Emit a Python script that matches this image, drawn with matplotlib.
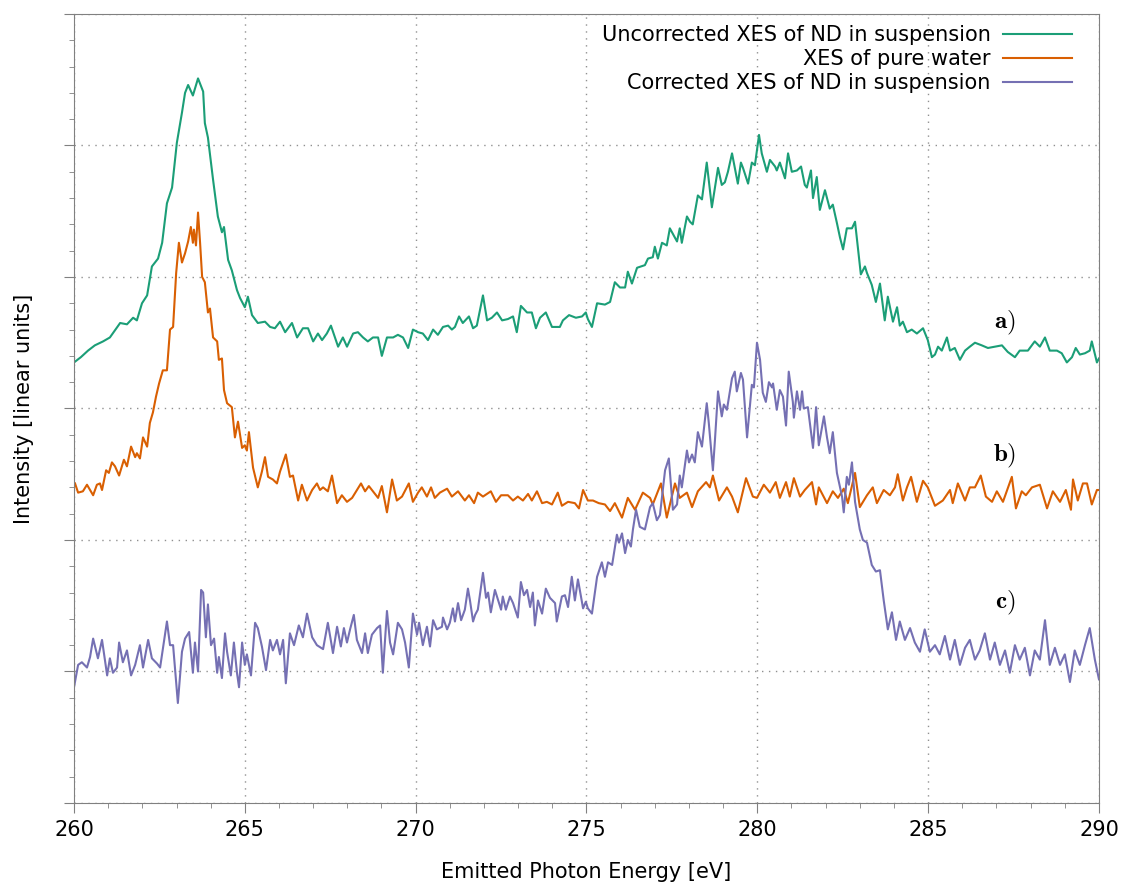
import numpy as np
import matplotlib
matplotlib.use("Agg")
import matplotlib.pyplot as plt
from matplotlib.ticker import MultipleLocator

plt.rcParams['mathtext.fontset'] = 'cm'
plt.rcParams['font.family'] = ['DejaVu Sans']

# --- a) uncorrected XES of ND in suspension (green) ---
energy_a = [260.00, 260.20, 260.41, 260.61, 260.85, 261.05, 261.35, 261.55, 261.73, 261.84,
            261.99, 262.14, 262.28, 262.46, 262.58, 262.72, 262.87, 263.01, 263.16, 263.25,
            263.34, 263.48, 263.63, 263.78, 263.83, 263.92, 264.07, 264.21, 264.33, 264.39,
            264.51, 264.62, 264.77, 264.86, 265.00, 265.09, 265.21, 265.38, 265.59, 265.74,
            265.88, 266.03, 266.18, 266.38, 266.53, 266.70, 266.85, 267.00, 267.14, 267.26,
            267.40, 267.52, 267.73, 267.87, 267.99, 268.17, 268.31, 268.46, 268.60, 268.75,
            268.90, 269.01, 269.16, 269.34, 269.48, 269.63, 269.78, 269.92, 270.07, 270.21,
            270.36, 270.51, 270.65, 270.80, 270.95, 271.06, 271.15, 271.27, 271.38, 271.56,
            271.68, 271.79, 271.97, 272.09, 272.23, 272.38, 272.53, 272.70, 272.85, 272.96,
            273.08, 273.26, 273.40, 273.52, 273.64, 273.81, 273.99, 274.22, 274.31, 274.49,
            274.69, 274.87, 274.98, 275.04, 275.16, 275.31, 275.54, 275.69, 275.83, 275.98,
            276.13, 276.21, 276.33, 276.48, 276.71, 276.80, 276.94, 277.00, 277.09, 277.21,
            277.35, 277.44, 277.65, 277.73, 277.79, 277.94, 278.03, 278.11, 278.26, 278.38,
            278.52, 278.67, 278.85, 278.96, 279.05, 279.14, 279.26, 279.43, 279.52, 279.58,
            279.73, 279.84, 279.93, 280.05, 280.13, 280.28, 280.37, 280.52, 280.57, 280.66,
            280.81, 280.90, 281.01, 281.16, 281.28, 281.39, 281.45, 281.57, 281.63, 281.74,
            281.83, 281.98, 282.12, 282.21, 282.33, 282.42, 282.51, 282.62, 282.77, 282.86,
            282.94, 283.03, 283.15, 283.21, 283.35, 283.47, 283.59, 283.73, 283.82, 283.97,
            284.09, 284.17, 284.26, 284.38, 284.52, 284.67, 284.85, 284.99, 285.11, 285.20,
            285.29, 285.40, 285.55, 285.64, 285.78, 285.93, 286.08, 286.22, 286.37, 286.57,
            286.75, 286.95, 287.16, 287.33, 287.54, 287.68, 287.92, 288.12, 288.27, 288.42,
            288.56, 288.77, 288.91, 289.06, 289.21, 289.32, 289.44, 289.59, 289.73, 289.79,
            289.94, 290.00]
intens_a = [3.35, 3.39, 3.44, 3.48, 3.51, 3.54, 3.65, 3.64, 3.69, 3.67,
            3.80, 3.86, 4.08, 4.14, 4.26, 4.56, 4.68, 5.02, 5.25, 5.40,
            5.46, 5.38, 5.51, 5.41, 5.17, 5.06, 4.74, 4.46, 4.34, 4.38,
            4.13, 4.05, 3.90, 3.84, 3.77, 3.85, 3.71, 3.65, 3.66, 3.62,
            3.61, 3.66, 3.58, 3.65, 3.54, 3.61, 3.61, 3.51, 3.57, 3.52,
            3.57, 3.63, 3.47, 3.54, 3.47, 3.57, 3.58, 3.54, 3.51, 3.54,
            3.54, 3.40, 3.54, 3.54, 3.56, 3.54, 3.46, 3.60, 3.58, 3.57,
            3.52, 3.60, 3.56, 3.62, 3.63, 3.60, 3.62, 3.70, 3.65, 3.70,
            3.61, 3.63, 3.86, 3.67, 3.69, 3.73, 3.67, 3.68, 3.70, 3.58,
            3.78, 3.73, 3.73, 3.61, 3.69, 3.73, 3.62, 3.62, 3.67, 3.71,
            3.69, 3.70, 3.73, 3.68, 3.62, 3.80, 3.79, 3.81, 3.96, 3.92,
            3.92, 4.04, 3.95, 4.07, 4.09, 4.14, 4.15, 4.23, 4.14, 4.26,
            4.24, 4.37, 4.27, 4.37, 4.26, 4.46, 4.42, 4.40, 4.62, 4.59,
            4.87, 4.53, 4.83, 4.70, 4.72, 4.80, 4.94, 4.71, 4.87, 4.83,
            4.71, 4.87, 4.85, 5.08, 4.94, 4.80, 4.89, 4.84, 4.81, 4.87,
            4.75, 4.94, 4.80, 4.81, 4.84, 4.70, 4.68, 4.81, 4.60, 4.76,
            4.51, 4.66, 4.52, 4.55, 4.41, 4.30, 4.21, 4.37, 4.37, 4.42,
            4.23, 4.02, 4.08, 4.03, 3.94, 3.81, 3.95, 3.67, 3.85, 3.66,
            3.77, 3.63, 3.66, 3.58, 3.60, 3.57, 3.61, 3.52, 3.39, 3.41,
            3.47, 3.44, 3.54, 3.44, 3.46, 3.37, 3.44, 3.47, 3.50, 3.48,
            3.46, 3.47, 3.48, 3.43, 3.39, 3.44, 3.44, 3.51, 3.47, 3.54,
            3.44, 3.44, 3.42, 3.35, 3.39, 3.46, 3.41, 3.42, 3.44, 3.51,
            3.35, 3.38]

# --- b) XES of pure water (orange) ---
energy_b = [260.03, 260.12, 260.26, 260.38, 260.56, 260.67, 260.76, 260.82, 260.94, 261.02,
            261.11, 261.20, 261.32, 261.46, 261.55, 261.67, 261.79, 261.84, 261.93, 262.02,
            262.14, 262.22, 262.31, 262.40, 262.49, 262.60, 262.72, 262.81, 262.90, 262.99,
            263.07, 263.16, 263.25, 263.34, 263.42, 263.48, 263.51, 263.57, 263.63, 263.69,
            263.75, 263.83, 263.92, 263.98, 264.07, 264.19, 264.24, 264.33, 264.39, 264.48,
            264.62, 264.71, 264.80, 264.92, 265.00, 265.06, 265.12, 265.24, 265.38, 265.50,
            265.59, 265.68, 265.82, 265.94, 266.03, 266.20, 266.32, 266.41, 266.56, 266.67,
            266.82, 266.97, 267.11, 267.20, 267.29, 267.43, 267.55, 267.70, 267.84, 267.99,
            268.14, 268.28, 268.40, 268.52, 268.63, 268.75, 268.90, 269.01, 269.16, 269.31,
            269.45, 269.60, 269.80, 269.92, 270.07, 270.18, 270.33, 270.45, 270.56, 270.71,
            270.92, 271.06, 271.24, 271.44, 271.56, 271.71, 271.82, 271.97, 272.20, 272.35,
            272.50, 272.70, 272.85, 272.99, 273.14, 273.29, 273.40, 273.55, 273.70, 273.84,
            273.99, 274.16, 274.28, 274.46, 274.66, 274.78, 274.90, 275.04, 275.19, 275.36,
            275.54, 275.69, 275.83, 276.04, 276.21, 276.42, 276.65, 276.86, 276.94, 277.18,
            277.35, 277.59, 277.73, 277.94, 278.09, 278.26, 278.50, 278.61, 278.70, 278.88,
            279.11, 279.26, 279.43, 279.67, 279.87, 279.99, 280.19, 280.37, 280.54, 280.66,
            280.84, 280.95, 281.07, 281.25, 281.39, 281.60, 281.72, 281.80, 282.04, 282.21,
            282.36, 282.53, 282.65, 282.86, 283.00, 283.21, 283.38, 283.50, 283.70, 283.88,
            284.03, 284.11, 284.26, 284.38, 284.50, 284.67, 284.85, 284.99, 285.20, 285.43,
            285.64, 285.72, 285.87, 286.08, 286.22, 286.37, 286.54, 286.69, 286.87, 287.01,
            287.19, 287.45, 287.57, 287.74, 287.86, 288.04, 288.27, 288.48, 288.65, 288.86,
            289.03, 289.18, 289.24, 289.38, 289.53, 289.65, 289.79, 289.94, 290.00]
intens_b = [2.43, 2.36, 2.37, 2.42, 2.34, 2.42, 2.43, 2.38, 2.53, 2.51,
            2.59, 2.56, 2.49, 2.61, 2.56, 2.71, 2.63, 2.66, 2.62, 2.78,
            2.71, 2.89, 2.97, 3.09, 3.19, 3.29, 3.29, 3.60, 3.62, 4.03,
            4.26, 4.11, 4.18, 4.27, 4.38, 4.26, 4.36, 4.24, 4.49, 4.26,
            4.00, 3.96, 3.73, 3.76, 3.54, 3.51, 3.37, 3.38, 3.14, 3.04,
            3.01, 2.78, 2.90, 2.70, 2.72, 2.68, 2.82, 2.55, 2.40, 2.52,
            2.63, 2.48, 2.46, 2.43, 2.52, 2.65, 2.48, 2.49, 2.30, 2.42,
            2.30, 2.38, 2.43, 2.38, 2.40, 2.37, 2.49, 2.28, 2.34, 2.29,
            2.32, 2.38, 2.43, 2.37, 2.41, 2.37, 2.32, 2.41, 2.21, 2.46,
            2.30, 2.33, 2.43, 2.29, 2.36, 2.40, 2.33, 2.40, 2.32, 2.36,
            2.39, 2.33, 2.37, 2.30, 2.34, 2.28, 2.36, 2.33, 2.37, 2.29,
            2.34, 2.34, 2.30, 2.33, 2.30, 2.35, 2.30, 2.37, 2.28, 2.29,
            2.27, 2.36, 2.26, 2.29, 2.28, 2.24, 2.38, 2.30, 2.30, 2.28,
            2.27, 2.22, 2.28, 2.17, 2.32, 2.23, 2.36, 2.32, 2.27, 2.43,
            2.17, 2.43, 2.32, 2.36, 2.25, 2.37, 2.44, 2.40, 2.49, 2.30,
            2.40, 2.33, 2.21, 2.47, 2.33, 2.32, 2.42, 2.36, 2.44, 2.32,
            2.44, 2.33, 2.47, 2.33, 2.38, 2.44, 2.27, 2.40, 2.28, 2.37,
            2.32, 2.39, 2.28, 2.51, 2.25, 2.34, 2.40, 2.28, 2.38, 2.34,
            2.40, 2.50, 2.30, 2.40, 2.48, 2.29, 2.45, 2.40, 2.26, 2.30,
            2.38, 2.28, 2.43, 2.30, 2.40, 2.40, 2.49, 2.33, 2.29, 2.37,
            2.29, 2.48, 2.24, 2.37, 2.34, 2.40, 2.42, 2.24, 2.37, 2.29,
            2.38, 2.23, 2.46, 2.30, 2.43, 2.43, 2.27, 2.38, 2.38]

# --- c) corrected XES of ND in suspension (purple) ---
energy_c = [260.00, 260.12, 260.23, 260.38, 260.47, 260.56, 260.67, 260.70, 260.82, 260.97,
            261.05, 261.14, 261.26, 261.32, 261.43, 261.55, 261.67, 261.79, 261.93, 262.02,
            262.17, 262.28, 262.43, 262.52, 262.72, 262.81, 262.90, 263.04, 263.16, 263.25,
            263.37, 263.48, 263.54, 263.63, 263.72, 263.78, 263.86, 263.92, 264.01, 264.10,
            264.19, 264.24, 264.33, 264.42, 264.48, 264.59, 264.68, 264.77, 264.83, 264.92,
            265.00, 265.06, 265.18, 265.30, 265.38, 265.50, 265.62, 265.74, 265.82, 265.94,
            266.03, 266.12, 266.20, 266.32, 266.44, 266.58, 266.70, 266.82, 266.97, 267.11,
            267.29, 267.43, 267.58, 267.70, 267.81, 267.90, 267.99, 268.08, 268.19, 268.28,
            268.43, 268.52, 268.60, 268.72, 268.87, 268.96, 269.04, 269.16, 269.25, 269.34,
            269.48, 269.60, 269.69, 269.80, 269.92, 270.04, 270.10, 270.21, 270.33, 270.42,
            270.51, 270.62, 270.77, 270.80, 270.92, 271.00, 271.09, 271.15, 271.24, 271.33,
            271.44, 271.53, 271.59, 271.68, 271.74, 271.82, 271.97, 272.06, 272.12, 272.20,
            272.32, 272.50, 272.55, 272.64, 272.76, 272.85, 272.99, 273.08, 273.17, 273.26,
            273.35, 273.43, 273.49, 273.58, 273.70, 273.81, 273.93, 274.08, 274.13, 274.28,
            274.37, 274.46, 274.57, 274.66, 274.75, 274.90, 274.98, 275.04, 275.16, 275.31,
            275.45, 275.54, 275.63, 275.75, 275.89, 275.95, 276.04, 276.13, 276.21, 276.30,
            276.36, 276.45, 276.56, 276.71, 276.86, 276.94, 277.06, 277.15, 277.30, 277.41,
            277.53, 277.65, 277.73, 277.79, 277.94, 278.00, 278.09, 278.17, 278.26, 278.38,
            278.52, 278.58, 278.70, 278.76, 278.85, 278.96, 279.02, 279.11, 279.26, 279.34,
            279.40, 279.52, 279.58, 279.70, 279.84, 279.90, 279.99, 280.08, 280.16, 280.25,
            280.34, 280.43, 280.46, 280.57, 280.66, 280.75, 280.84, 280.92, 281.04, 281.07,
            281.16, 281.25, 281.31, 281.36, 281.48, 281.63, 281.72, 281.80, 281.95, 282.04,
            282.12, 282.21, 282.33, 282.48, 282.53, 282.62, 282.68, 282.77, 282.86, 282.94,
            283.00, 283.09, 283.21, 283.35, 283.47, 283.59, 283.70, 283.82, 283.94, 284.06,
            284.17, 284.32, 284.47, 284.61, 284.76, 284.90, 285.05, 285.20, 285.34, 285.49,
            285.64, 285.78, 285.93, 286.08, 286.22, 286.37, 286.51, 286.66, 286.81, 286.95,
            287.10, 287.25, 287.39, 287.54, 287.68, 287.83, 287.98, 288.12, 288.27, 288.42,
            288.56, 288.71, 288.86, 289.00, 289.15, 289.29, 289.44, 289.59, 289.73, 289.88,
            290.00]
intens_c = [0.88, 1.05, 1.07, 1.03, 1.11, 1.25, 1.13, 1.10, 1.24, 0.97,
            1.10, 0.99, 1.03, 1.22, 1.07, 1.16, 0.97, 1.05, 1.20, 1.03,
            1.24, 1.10, 1.06, 1.03, 1.38, 1.20, 1.20, 0.76, 1.15, 1.25,
            1.30, 0.99, 1.22, 1.00, 1.62, 1.60, 1.26, 1.51, 1.20, 1.25,
            0.99, 1.11, 0.95, 1.29, 1.15, 0.97, 1.22, 0.99, 0.88, 1.22,
            1.05, 1.13, 0.97, 1.37, 1.33, 1.19, 1.01, 1.24, 1.16, 1.24,
            1.13, 1.24, 0.91, 1.29, 1.20, 1.35, 1.26, 1.44, 1.26, 1.20,
            1.17, 1.37, 1.14, 1.34, 1.19, 1.33, 1.22, 1.32, 1.43, 1.24,
            1.14, 1.29, 1.14, 1.28, 1.33, 1.35, 0.99, 1.46, 1.22, 1.13,
            1.37, 1.32, 1.22, 1.03, 1.44, 1.28, 1.37, 1.20, 1.34, 1.19,
            1.39, 1.32, 1.34, 1.41, 1.32, 1.37, 1.48, 1.38, 1.52, 1.39,
            1.47, 1.63, 1.54, 1.38, 1.43, 1.47, 1.75, 1.56, 1.60, 1.45,
            1.62, 1.47, 1.57, 1.47, 1.57, 1.52, 1.41, 1.68, 1.58, 1.62,
            1.49, 1.60, 1.35, 1.54, 1.44, 1.63, 1.56, 1.52, 1.38, 1.57,
            1.58, 1.49, 1.72, 1.54, 1.70, 1.48, 1.53, 1.48, 1.44, 1.72,
            1.83, 1.72, 1.83, 1.81, 2.04, 1.98, 2.05, 1.90, 2.00, 1.95,
            2.08, 2.23, 2.10, 2.08, 2.25, 2.28, 2.15, 2.19, 2.53, 2.62,
            2.23, 2.27, 2.49, 2.40, 2.68, 2.59, 2.65, 2.59, 2.82, 2.71,
            3.04, 2.89, 2.53, 2.76, 3.13, 2.94, 3.03, 2.99, 3.23, 3.28,
            3.13, 3.27, 3.22, 2.78, 3.18, 3.16, 3.50, 3.37, 3.12, 3.05,
            3.20, 3.16, 3.19, 2.99, 3.14, 3.09, 2.87, 3.28, 3.05, 2.93,
            3.13, 2.99, 3.13, 3.00, 3.01, 2.70, 3.01, 2.72, 2.94, 2.78,
            2.66, 2.82, 2.51, 2.33, 2.21, 2.48, 2.42, 2.59, 2.29, 2.17,
            2.08, 2.00, 1.98, 1.81, 1.76, 1.77, 1.54, 1.32, 1.45, 1.24,
            1.38, 1.24, 1.33, 1.22, 1.15, 1.32, 1.15, 1.20, 1.13, 1.27,
            1.09, 1.24, 1.05, 1.18, 1.24, 1.09, 1.16, 1.29, 1.09, 1.22,
            1.05, 1.16, 0.99, 1.20, 1.09, 1.18, 0.97, 1.16, 1.09, 1.39,
            1.05, 1.18, 1.05, 1.13, 0.92, 1.16, 1.05, 1.20, 1.33, 1.09,
            0.94]

series_labels = ["Uncorrected XES of ND in suspension", "XES of pure water",
                 "Corrected XES of ND in suspension"]
series_colors = ["#1b9e77", "#d95f02", "#7570b3"]
panel_tags = ["a)", "b)", "c)"]
tag_y = [3.65, 2.64, 1.52]

fig = plt.figure(figsize=(11.23, 8.85), dpi=100)
ax = fig.add_axes([0.0659, 0.0927, 0.9127, 0.8915])

for xs, ys, lab, col in zip([energy_a, energy_b, energy_c], [intens_a, intens_b, intens_c],
                            series_labels, series_colors):
    ax.plot(xs, ys, color=col, lw=1.5, label=lab)

for tag, ty in zip(panel_tags, tag_y):
    ax.text(287.25, ty, r'$\mathbf{%s}$' % tag, fontsize=18, ha='center', va='center')

ax.set_xlim(260, 290)
ax.set_ylim(0, 6)
ax.xaxis.set_major_locator(MultipleLocator(5))
ax.xaxis.set_minor_locator(MultipleLocator(1))
ax.yaxis.set_major_locator(MultipleLocator(1))
ax.yaxis.set_minor_locator(MultipleLocator(0.2))
ax.tick_params(which='both', direction='out', colors='#808080', labelcolor='black',
               labelsize=15, labelleft=False)
ax.tick_params(which='major', length=7, pad=5)
ax.tick_params(which='minor', length=3.5)
for sp in ax.spines.values():
    sp.set_color('#808080')
ax.grid(True, which='major', linestyle=(0, (1, 4)), color='#909090', lw=1.0)

ax.set_xlabel('Emitted Photon Energy [eV]', fontsize=15, labelpad=16)
ax.set_ylabel('Intensity [linear units]', fontsize=15, labelpad=22)

ax.legend(loc='upper right', bbox_to_anchor=(0.9737, 0.986), frameon=False,
          markerfirst=False, fontsize=15, handlelength=3.3, handletextpad=0.6,
          labelspacing=0.2, borderpad=0, borderaxespad=0)

fig.savefig('out.png', dpi=100)
